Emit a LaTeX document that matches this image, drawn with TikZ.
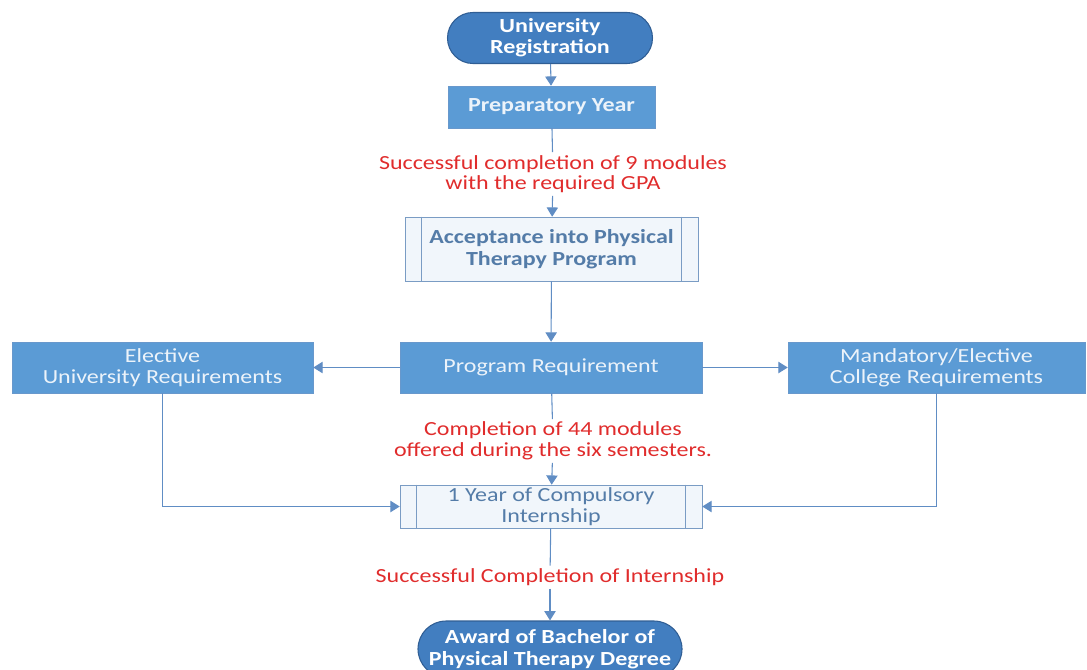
\documentclass[tikz,border=0pt]{standalone}
\usepackage{fontspec}
\setmainfont[FakeStretch=1.2]{Carlito}
\usetikzlibrary{arrows.meta,shapes.misc}

\definecolor{ovalblue}{RGB}{66,126,192}
\definecolor{ovaledge}{RGB}{48,94,148}
\definecolor{boxblue}{RGB}{91,155,213}
\definecolor{boxedge}{RGB}{104,152,204}
\definecolor{procfill}{RGB}{241,246,251}
\definecolor{procedge}{RGB}{122,156,196}
\definecolor{proctext}{RGB}{84,124,168}
\definecolor{boxtext}{RGB}{236,243,250}
\definecolor{condred}{RGB}{224,44,44}
\definecolor{linkblue}{RGB}{96,141,196}

\tikzset{
  terminal/.style={rounded rectangle, fill=ovalblue, draw=ovaledge, thick,
    text=white, font=\fontsize{15}{16}\selectfont\bfseries, align=center, inner sep=0pt},
  stepbox/.style={rectangle, fill=boxblue, draw=boxedge, text=boxtext,
    font=\fontsize{15}{16}\selectfont, align=center, inner sep=0pt},
  process/.style={rectangle, fill=procfill, draw=procedge, text=proctext,
    font=\fontsize{15}{16}\selectfont, align=center, inner sep=0pt},
  condition/.style={text=condred, font=\fontsize{15}{15.5}\selectfont, align=center, inner sep=2pt},
  link/.style={draw=linkblue, thick},
  arrow/.style={link, -{Triangle[width=8.5pt,length=7pt]}}
}

\begin{document}
\begin{tikzpicture}[x=0.75pt, y=-0.75pt]
\useasboundingbox (0,0) rectangle (1087,669);

\node[terminal, minimum width=205*0.75pt, minimum height=51*0.75pt] (reg) at (550,38) {University\\Registration};
\node[stepbox, font=\fontsize{15}{16}\selectfont\bfseries, minimum width=207*0.75pt, minimum height=42*0.75pt] (prep) at (551.5,107) {Preparatory Year};
\node[condition] (gpa) at (553,174) {Successful completion of 9 modules\\with the required GPA};
\node[process, font=\fontsize{15}{16}\selectfont\bfseries, minimum width=293*0.75pt, minimum height=64*0.75pt] (accept) at (551.5,249) {Acceptance into Physical\\Therapy Program};
\node[stepbox, minimum width=302*0.75pt, minimum height=51*0.75pt] (prog) at (551,367.5) {Program Requirement};
\node[stepbox, minimum width=301*0.75pt, minimum height=51*0.75pt] (elec) at (162.5,367.5) {Elective\\University Requirements};
\node[stepbox, minimum width=297*0.75pt, minimum height=51*0.75pt] (mand) at (936.5,367.5) {Mandatory/Elective\\College Requirements};
\node[condition] (mods) at (553,441) {Completion of 44 modules\\offered during the six semesters.};
\node[process, minimum width=302*0.75pt, minimum height=43*0.75pt] (intern) at (551,506.5) {1 Year of Compulsory\\Internship};
\node[condition] (done) at (550,577) {Successful Completion of Internship};
\node[terminal, minimum width=264*0.75pt, minimum height=56*0.75pt] (award) at (550,649) {Award of Bachelor of\\Physical Therapy Degree};

% side bars of the process boxes
\draw[draw=procedge, thick] ([xshift=17*0.75pt]accept.north west) -- ([xshift=17*0.75pt]accept.south west);
\draw[draw=procedge, thick] ([xshift=-17*0.75pt]accept.north east) -- ([xshift=-17*0.75pt]accept.south east);
\draw[draw=procedge, thick] ([xshift=17*0.75pt]intern.north west) -- ([xshift=17*0.75pt]intern.south west);
\draw[draw=procedge, thick] ([xshift=-17*0.75pt]intern.north east) -- ([xshift=-17*0.75pt]intern.south east);

\draw[arrow] (reg) -- (prep);
\draw[link] (prep) -- (gpa);
\draw[arrow] (gpa) -- (accept);
\draw[arrow] (accept) -- (prog);
\draw[arrow] (prog) -- (elec);
\draw[arrow] (prog) -- (mand);
\draw[link] (prog) -- (mods);
\draw[arrow] (mods) -- (intern);
\draw[arrow] (elec) |- (intern.west);
\draw[arrow] (mand) |- (intern.east);
\draw[link] (intern) -- (done);
\draw[arrow] (done) -- (award);

\end{tikzpicture}
\end{document}
